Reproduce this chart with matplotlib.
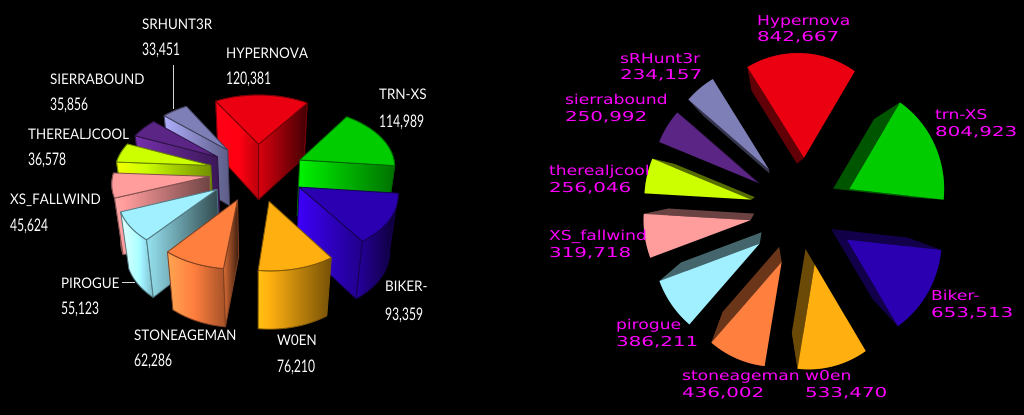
import numpy as np
import matplotlib
matplotlib.use('Agg')
import matplotlib.pyplot as plt
from matplotlib.patches import Polygon
from matplotlib.patheffects import AbstractPathEffect
from matplotlib.transforms import Affine2D

names = ['Hypernova', 'trn-XS', 'Biker-', 'w0en', 'stoneageman', 'pirogue',
         'XS_fallwind', 'therealjcool', 'sierrabound', 'sRHunt3r']
left_values = [120381, 114989, 93359, 76210, 62286, 55123, 45624, 36578, 35856, 33451]
right_values = [842667, 804923, 653513, 533470, 436002, 386211, 319718, 256046, 250992, 234157]
colors = ['#EA0010', '#00CC00', '#2B00B0', '#FFB010', '#FF7F3F',
          '#A0F0FF', '#FF9C9C', '#CCFF00', '#5B2586', '#7F7FB8']

# label anchor, x then name y and value y, in pixels
left_labels = [(226, 54, 79), (379, 95, 122), (385, 287, 315), (277, 341, 367), (134, 336, 361),
               (61, 284, 309), (10, 200, 226), (28, 135, 160), (50, 80, 105), (142, 25, 50)]
right_labels = [(757, 21, 37), (935, 115, 132), (931, 296, 313), (805, 376, 393), (682, 376, 393),
                (616, 325, 342), (549, 236, 253), (549, 171, 188), (565, 100, 117), (620, 59, 75)]


class Stretch(AbstractPathEffect):
    # changes the glyph width, the installed fonts do not have the original proportions
    def __init__(self, sx):
        super().__init__()
        self.sx = sx

    def draw_path(self, renderer, gc, tpath, affine, rgbFace=None):
        renderer.draw_path(gc, tpath, Affine2D().scale(self.sx, 1) + affine, rgbFace)


def project(wx, wy, view):
    s = 1 / (1 + view['k'] * wy)
    return view['cx'] + view['ax'] * wx * s, view['cy'] - view['ay'] * wy * s, s


def lower(x, y, s, view):
    px, py = view['pivot']
    f = view['f']
    return px + f * (x - px), py + f * (y - py) + view['h'] * s


def shade(color, b):
    return np.clip(np.array(matplotlib.colors.to_rgb(color)) * b, 0, 1)


def face(ax, pts, color, b, z, gradient):
    pts = np.array(pts)
    if not gradient:
        ax.add_patch(Polygon(pts, closed=True, fc=shade(color, b), ec='none', zorder=z))
        return
    span = np.linspace(b + 0.32, b - 0.32, 64)
    img = np.array([[shade(color, v) for v in span]])
    x0, x1 = pts[:, 0].min(), pts[:, 0].max()
    y0, y1 = pts[:, 1].min(), pts[:, 1].max()
    im = ax.imshow(img, extent=(x0, x1, y1, y0), aspect='auto', zorder=z, interpolation='bilinear')
    clip = Polygon(pts, closed=True, transform=ax.transData, fc='none', ec='none')
    im.set_clip_path(clip)
    ax.add_patch(Polygon(pts, closed=True, fc='none', ec=shade(color, 0.5), lw=0.7, zorder=z))


def area(p):
    p = np.array(p)
    return 0.5 * np.sum(p[:, 0] * np.roll(p[:, 1], -1) - np.roll(p[:, 0], -1) * p[:, 1])


def draw_pie(ax, values, view, gradient, side_b, side_slope):
    sweep = np.array(values) / np.sum(values) * 360
    stops = view['start'] + np.concatenate([[0], np.cumsum(sweep)])
    mids = np.radians((stops[:-1] + stops[1:]) / 2)
    order = np.argsort(-np.cos(mids))
    z = 2
    for i in order:
        a0, a1 = np.radians(stops[i]), np.radians(stops[i + 1])
        ex, ey = view['explode'] * np.sin(mids[i]), view['explode'] * np.cos(mids[i])
        t = np.linspace(a0, a1, 40)
        wx = np.r_[ex, ex + view['radius'] * np.sin(t)]
        wy = np.r_[ey, ey + view['radius'] * np.cos(t)]
        x, y, s = project(wx, wy, view)
        x[0] += view['tip_dx']
        bx, by = lower(x, y, s, view)
        top = np.c_[x, y]
        bot = np.c_[bx, by]
        sign = np.sign(area(top))
        # outer arc first, the radial sides and top cover whatever of it faces away
        arc = np.r_[top[1:], bot[1:][::-1]]
        face(ax, arc, colors[i], side_b - side_slope * np.sin(mids[i]), z, gradient)
        z += 1
        sides = [([top[0], top[1], bot[1], bot[0]], -np.cos(a0)),
                 ([top[-1], top[0], bot[0], bot[-1]], np.cos(a1))]
        for pts, nx in sides:
            if np.sign(area(pts)) != sign:
                face(ax, pts, colors[i], side_b - side_slope * nx, z, gradient)
                z += 1
        ax.add_patch(Polygon(top, closed=True, fc=colors[i],
                             ec=shade(colors[i], 0.5) if gradient else 'none', lw=0.7, zorder=z))
        z += 1


fig = plt.figure(figsize=(10.24, 4.15), dpi=100, facecolor='black')
ax = fig.add_axes([0, 0, 1, 1])
ax.set_facecolor('black')

left_view = dict(cx=257, cy=172, ax=144, ay=87, k=0.13, radius=0.667, explode=0.333,
                 start=-30, pivot=(257, 172), f=0.94, h=56, tip_dx=0)
right_view = dict(cx=796, cy=212, ax=153, ay=159, k=0.0, radius=0.66, explode=0.34,
                  start=-30, pivot=(769, 187), f=0.8, h=0, tip_dx=6)

draw_pie(ax, left_values, left_view, True, 0.85, 0.3)
draw_pie(ax, right_values, right_view, False, 0.42, 0.0)

ax.set_xlim(0, 1024)
ax.set_ylim(415, 0)
ax.axis('off')

# leader lines on the left pie
ax.plot([173, 173], [65, 108], color='#dddddd', lw=0.7, zorder=1)
ax.plot([122, 134], [282, 282], color='#dddddd', lw=0.7, zorder=1)

for name, value, (x, y0, y1) in zip(names, left_values, left_labels):
    ax.text(x, y0, name.upper(), color='white', fontsize=10.5, family=['Lato', 'DejaVu Sans'],
            va='center', ha='left', zorder=100, path_effects=[Stretch(0.92)])
    ax.text(x, y1, f'{value:,}', color='white', fontsize=12.5, family=['Lato', 'DejaVu Sans'],
            va='center', ha='left', zorder=100, path_effects=[Stretch(0.7)])

for name, value, (x, y0, y1) in zip(names, right_values, right_labels):
    ax.text(x, y0, name, color='#FF00FF', fontsize=9.8, family='DejaVu Sans',
            va='center', ha='left', zorder=100, path_effects=[Stretch(1.26)])
    ax.text(x, y1, f'{value:,}', color='#FF00FF', fontsize=9.8, family='DejaVu Sans',
            va='center', ha='left', zorder=100, path_effects=[Stretch(1.46)])

fig.savefig('out.png', dpi=100, facecolor='black')
